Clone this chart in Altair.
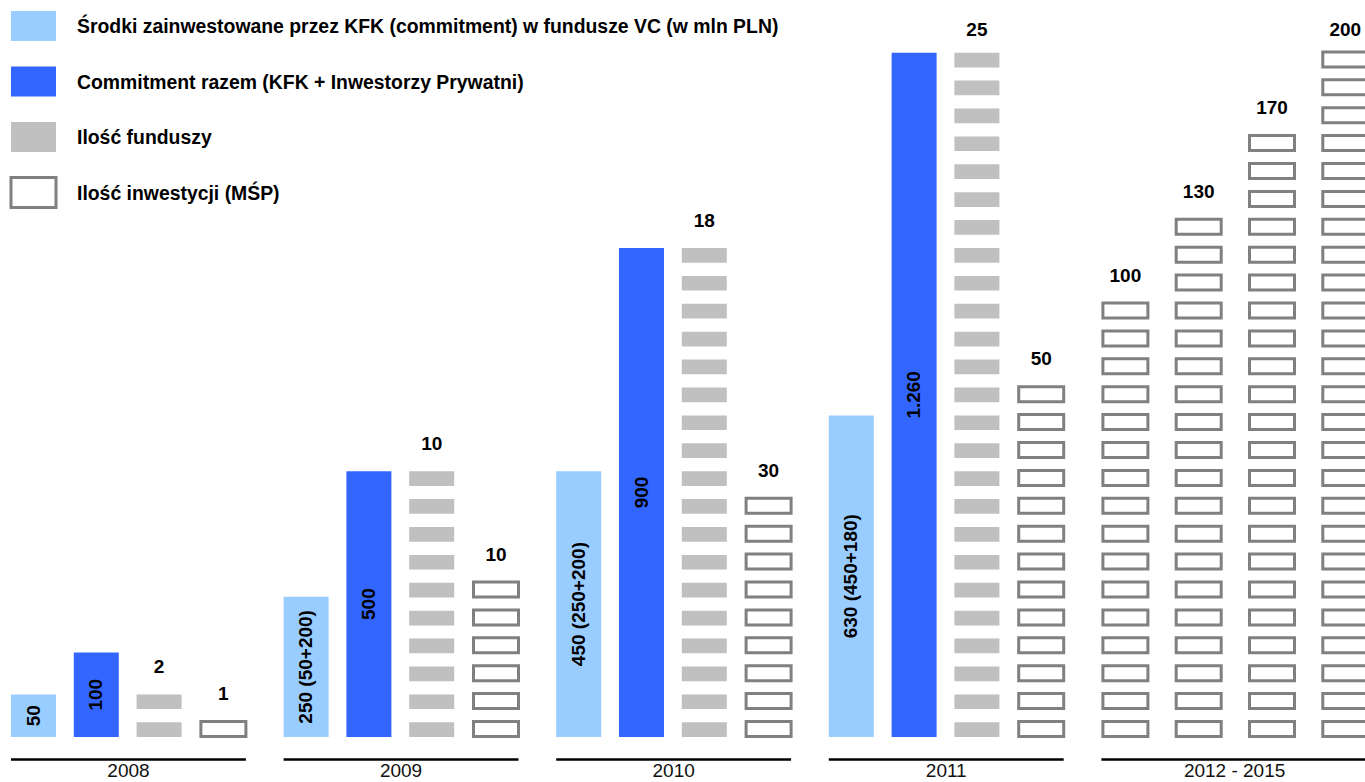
import altair as alt
import pandas as pd

# ---------------- data ----------------
periods = ["2008", "2009", "2010", "2011", "2012 - 2015"]

kfk_labels = ["50", "250 (50+200)", "450 (250+200)", "630 (450+180)"]
kfk_blocks = [2, 5.5, 10, 12]          # bar height expressed in stack-block units
total_labels = ["100", "500", "900", "1.260"]
total_blocks = [3.5, 10, 18, 25]

funds = [2, 10, 18, 25]                # Ilość funduszy
funds_blocks = [2, 10, 18, 25]

invest = [1, 10, 30, 50]               # Ilość inwestycji 2008-2011
invest_blocks = [1, 6, 9, 13]
forecast_invest = [100, 130, 170, 200] # 2012 - 2015
forecast_blocks = [16, 19, 22, 25]

legend_labels = [
    "Środki zainwestowane przez KFK (commitment) w fundusze VC (w mln PLN)",
    "Commitment razem (KFK + Inwestorzy Prywatni)",
    "Ilość funduszy",
    "Ilość inwestycji (MŚP)",
]

# ---------------- layout ----------------
W, H = 1365, 782
BASE_PX = 737.0
PITCH = 27.9
GROUP0 = 11.0
GROUP_STEP = 272.6
COL_STEP = 62.8
LAST_COL_STEP = 73.3
COL_W = 45.0
GRAY_H = 14.7 / PITCH
OUT_LO = 0.5 / PITCH
OUT_HI = 15.5 / PITCH

LIGHT = "#99CCFF"
DARK = "#3366FF"
GRAY = "#C0C0C0"
OUTLINE = "#808080"
FONT = "Liberation Sans"


def yu(px):
    return (BASE_PX - px) / PITCH


def col_x(g, c):
    step = LAST_COL_STEP if g == 4 else COL_STEP
    return GROUP0 + g * GROUP_STEP + c * step


xs = alt.Scale(domain=[0, W], range=[0, W], nice=False, zero=False)
ys = alt.Scale(domain=[yu(H), yu(0)], range=[H, 0], nice=False, zero=False)


def X(f):
    return alt.X(f, type="quantitative", scale=xs, axis=None)


def Y(f):
    return alt.Y(f, type="quantitative", scale=ys, axis=None)


def X2(f):
    return alt.X2(f)


def Y2(f):
    return alt.Y2(f)


# bars
bar_rows = []
for g in range(4):
    for c, (labels, blocks, color) in enumerate(
        [(kfk_labels, kfk_blocks, LIGHT), (total_labels, total_blocks, DARK)]
    ):
        top = blocks[g] - 1 + GRAY_H
        bar_rows.append(dict(x=col_x(g, c), x2=col_x(g, c) + COL_W, y=0.0, y2=top,
                             ym=top / 2, xm=col_x(g, c) + COL_W / 2,
                             label=labels[g], color=color))
bars_df = pd.DataFrame(bar_rows)

# stacked blocks
gray_rows, out_rows, top_labels = [], [], []
for g in range(4):
    x0 = col_x(g, 2)
    for k in range(funds_blocks[g]):
        gray_rows.append(dict(x=x0, x2=x0 + COL_W, y=k, y2=k + GRAY_H))
    top_px = BASE_PX - ((funds_blocks[g] - 1 + GRAY_H) * PITCH)
    top_labels.append(dict(x=x0 + COL_W / 2, y=yu(max(top_px - 27, 30)), label=str(funds[g])))

inv_cols = [(g, 3, invest[g], invest_blocks[g]) for g in range(4)]
inv_cols += [(4, c, forecast_invest[c], forecast_blocks[c]) for c in range(4)]
for g, c, val, nb in inv_cols:
    x0 = col_x(g, c) + 1.5
    for k in range(nb):
        out_rows.append(dict(x=x0, x2=x0 + COL_W, y=k + OUT_LO, y2=k + OUT_HI))
    top_px = BASE_PX - ((nb - 1 + OUT_HI) * PITCH) - 1.5
    top_labels.append(dict(x=x0 + COL_W / 2, y=yu(max(top_px - 26, 30)), label=str(val)))

gray_df = pd.DataFrame(gray_rows)
out_df = pd.DataFrame(out_rows)
toplab_df = pd.DataFrame(top_labels)

# period axis lines and labels
per_rows = []
for g, p in enumerate(periods):
    x_start = col_x(g, 0)
    x_end = col_x(g, 3) + COL_W + 1.5
    per_rows.append(dict(x=x_start, x2=min(x_end, W), y=yu(759.5),
                         xm=(x_start + x_end) / 2, yl=yu(770.5), label=p))
per_df = pd.DataFrame(per_rows)

# legend
leg_rows = []
leg_colors = [LIGHT, DARK, GRAY, "#FFFFFF"]
for i, lab in enumerate(legend_labels):
    top = 11 + i * 55.5
    leg_rows.append(dict(x=11, x2=56, y=yu(top + 30), y2=yu(top), ym=yu(top + 16),
                         tx=77, label=lab, color=leg_colors[i], outline=(i == 3)))
leg_df = pd.DataFrame(leg_rows)

layers = []

layers.append(alt.Chart(bars_df).mark_rect().encode(
    x=X("x"), x2=X2("x2"), y=Y("y"), y2=Y2("y2"),
    color=alt.Color("color:N", scale=None)))
layers.append(alt.Chart(bars_df).mark_text(
    angle=270, font=FONT, fontSize=19, fontWeight="bold", color="black",
    align="center", baseline="middle").encode(
    x=X("xm"), y=Y("ym"), text="label:N"))

layers.append(alt.Chart(gray_df).mark_rect(color=GRAY).encode(
    x=X("x"), x2=X2("x2"), y=Y("y"), y2=Y2("y2")))
layers.append(alt.Chart(out_df).mark_rect(
    fill="white", stroke=OUTLINE, strokeWidth=3).encode(
    x=X("x"), x2=X2("x2"), y=Y("y"), y2=Y2("y2")))
layers.append(alt.Chart(toplab_df).mark_text(
    font=FONT, fontSize=19, fontWeight="bold", color="black",
    align="center", baseline="middle").encode(
    x=X("x"), y=Y("y"), text="label:N"))

layers.append(alt.Chart(per_df).mark_rule(color="black", strokeWidth=2.5).encode(
    x=X("x"), x2=X2("x2"), y=Y("y")))
layers.append(alt.Chart(per_df).mark_text(
    font=FONT, fontSize=19, color="#111111", align="center", baseline="middle").encode(
    x=X("xm"), y=Y("yl"), text="label:N"))

layers.append(alt.Chart(leg_df).transform_filter("!datum.outline").mark_rect().encode(
    x=X("x"), x2=X2("x2"), y=Y("y"), y2=Y2("y2"),
    color=alt.Color("color:N", scale=None)))
layers.append(alt.Chart(leg_df).transform_filter("datum.outline").mark_rect(
    fill="white", stroke=OUTLINE, strokeWidth=3).encode(
    x=X("x"), x2=X2("x2"), y=Y("y"), y2=Y2("y2")))
layers.append(alt.Chart(leg_df).mark_text(
    font=FONT, fontSize=19.4, fontWeight="bold", color="black",
    align="left", baseline="middle").encode(
    x=X("tx"), y=Y("ym"), text="label:N"))

chart = alt.layer(*layers).properties(
    width=W, height=H, padding=0, autosize=alt.AutoSizeParams(type="none"),
    background="white",
).configure_view(stroke=None)

chart.save("out.html", embed_options={"renderer": "svg", "actions": False})
